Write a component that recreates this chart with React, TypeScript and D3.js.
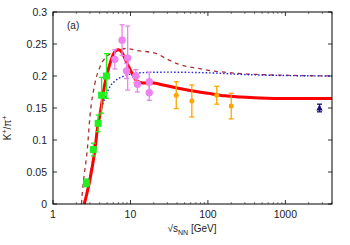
import React from "react";
import * as d3 from "d3";

const W = 350, H = 245;
const M = { left: 53, right: 332, top: 12, bottom: 204 };

const yTicks = [0, 0.05, 0.1, 0.15, 0.2, 0.25, 0.3];
const yTickLabels = ["0", "0.05", "0.1", "0.15", "0.2", "0.25", "0.3"];
const xTicks = [1, 10, 100, 1000];
const xTickLabels = ["1", "10", "100", "1000"];

// Model curves (sqrt(s) GeV, K+/pi+)
const redX = [2.53, 2.99, 3.47, 3.83, 4.03, 4.67, 5.42, 6.28, 6.93, 7.66, 8.88, 10.3, 11.9, 14.5, 19.5, 26.3, 37.2, 60.9, 99.7, 164, 268, 719, 4000];
const redY = [0, 0.037, 0.084, 0.126, 0.139, 0.188, 0.219, 0.238, 0.241, 0.238, 0.222, 0.206, 0.193, 0.189, 0.189, 0.186, 0.182, 0.177, 0.173, 0.169, 0.167, 0.165, 0.165];

const blueX = [2.55, 2.99, 3.47, 4.03, 4.67, 5.42, 6.28, 7.9, 13.2, 29, 100, 340, 4000];
const blueY = [0, 0.045, 0.087, 0.140, 0.165, 0.183, 0.192, 0.199, 0.205, 0.206, 0.205, 0.202, 0.200];

const brownX = [2.33, 2.41, 2.79, 2.99, 3.47, 4.03, 5.1, 7.3, 8.9, 12, 21.8, 29, 40.7, 58, 83, 114, 164, 340, 4000];
const brownY = [0, 0.022, 0.089, 0.135, 0.188, 0.214, 0.232, 0.241, 0.243, 0.240, 0.235, 0.227, 0.219, 0.214, 0.211, 0.208, 0.206, 0.203, 0.200];

// Data points
const greenX = [2.7, 3.32, 3.83, 4.24, 4.9];
const greenY = [0.033, 0.085, 0.126, 0.170, 0.200];
const greenE = [0.006, 0.01, 0.013, 0.028, 0.035];

const pinkX = [6.28, 7.8, 9.2, 8.9, 11.7, 12.3, 17.5, 17.5];
const pinkY = [0.226, 0.256, 0.228, 0.208, 0.200, 0.187, 0.191, 0.174];
const pinkE = [0.015, 0.024, 0.05, 0.012, 0.01, 0.012, 0.015, 0.012];

const orangeX = [39, 62, 130, 200];
const orangeY = [0.170, 0.161, 0.170, 0.153];
const orangeE = [0.021, 0.025, 0.014, 0.02];

const navyX = [2760];
const navyY = [0.150];
const navyE = [0.006];

export default function App() {
  const x = d3.scaleLog().domain([1, 4000]).range([M.left, M.right]);
  const y = d3.scaleLinear().domain([0, 0.3]).range([M.bottom, M.top]);

  const mkLine = (xs: number[], ys: number[]) =>
    d3.line<number>()
      .x((_, i) => x(xs[i]))
      .y((_, i) => y(ys[i]))
      .curve(d3.curveMonotoneX)(ys) || "";

  const minor: number[] = [];
  for (let p = 0; p < 4; p++) {
    for (let k = 2; k <= 9; k++) {
      const v = k * Math.pow(10, p);
      if (v <= 4000) minor.push(v);
    }
  }

  const font = "Liberation Sans, Arial, sans-serif";

  const errBars = (xs: number[], ys: number[], es: number[], color: string, cap: number, key: string) =>
    xs.map((xv, i) => {
      const cx = x(xv);
      const y1 = y(ys[i] + es[i]);
      const y2 = y(ys[i] - es[i]);
      return (
        <g key={key + i} stroke={color} strokeWidth={1.3}>
          <line x1={cx} x2={cx} y1={y1} y2={y2} />
          <line x1={cx - cap} x2={cx + cap} y1={y1} y2={y1} />
          <line x1={cx - cap} x2={cx + cap} y1={y2} y2={y2} />
        </g>
      );
    });

  return (
    <svg width={W} height={H} style={{ position: "absolute", left: 0, top: 0, background: "#fff" }} fontFamily={font}>
      <defs>
        <clipPath id="plot">
          <rect x={M.left} y={M.top} width={M.right - M.left} height={M.bottom - M.top} />
        </clipPath>
      </defs>
      {/* ticks */}
      <g stroke="#000" strokeWidth={0.8}>
        {yTicks.map((t, i) => (
          <g key={"yt" + i}>
            <line x1={M.left} x2={M.left + 4} y1={y(t)} y2={y(t)} />
            <line x1={M.right} x2={M.right - 4} y1={y(t)} y2={y(t)} />
          </g>
        ))}
        {xTicks.map((t, i) => (
          <g key={"xt" + i}>
            <line x1={x(t)} x2={x(t)} y1={M.bottom} y2={M.bottom - 4} />
            <line x1={x(t)} x2={x(t)} y1={M.top} y2={M.top + 4} />
          </g>
        ))}
        {minor.map((t, i) => (
          <g key={"mt" + i} stroke="#666">
            <line x1={x(t)} x2={x(t)} y1={M.bottom} y2={M.bottom - 2} />
            <line x1={x(t)} x2={x(t)} y1={M.top} y2={M.top + 2} />
          </g>
        ))}
      </g>
      {/* tick labels */}
      <g fontSize={10.5} fill="#222">
        {yTicks.map((t, i) => (
          <text key={"yl" + i} x={M.left - 6} y={y(t)} dy="0.35em" textAnchor="end">{yTickLabels[i]}</text>
        ))}
        {xTicks.map((t, i) => (
          <text key={"xl" + i} x={x(t)} y={218} textAnchor="middle">{xTickLabels[i]}</text>
        ))}
      </g>
      {/* axis titles */}
      <text x={192} y={232} fontSize={10} textAnchor="middle" fill="#222">
        √s<tspan fontSize={7} dy={2.5}>NN</tspan><tspan dy={-2.5}> [GeV]</tspan>
      </text>
      <text transform={`translate(11,${(M.top + M.bottom) / 2 + 20}) rotate(-90)`} fontSize={10} textAnchor="middle" fill="#222">
        K<tspan fontSize={7} dy={-4}>+</tspan><tspan dy={4}>/π</tspan><tspan fontSize={7} dy={-4}>+</tspan>
      </text>
      <text x={67} y={29} fontSize={10} fill="#222">(a)</text>

      <g clipPath="url(#plot)" fill="none">
        <path d={mkLine(brownX, brownY)} stroke="#a83232" strokeWidth={1.3} strokeDasharray="4,4" />
        <path d={mkLine(blueX, blueY)} stroke="#1f1fe6" strokeWidth={1.4} strokeDasharray="1.5,2" />
        <path d={mkLine(redX, redY)} stroke="#ff0000" strokeWidth={3} />
      </g>

      {/* data */}
      {errBars(greenX, greenY, greenE, "#22ee22", 2.5, "ge")}
      {greenX.map((xv, i) => (
        <rect key={"g" + i} x={x(xv) - 3.5} y={y(greenY[i]) - 3.5} width={7} height={7} fill="#22ee22" />
      ))}
      {errBars(pinkX, pinkY, pinkE, "#ee82ee", 2.5, "pe")}
      {pinkX.map((xv, i) => (
        <circle key={"p" + i} cx={x(xv)} cy={y(pinkY[i])} r={3.7} fill="#ee82ee" />
      ))}
      {errBars(orangeX, orangeY, orangeE, "#ffa500", 2.5, "oe")}
      {orangeX.map((xv, i) => (
        <circle key={"o" + i} cx={x(xv)} cy={y(orangeY[i])} r={2.5} fill="#ffa500" />
      ))}
      {errBars(navyX, navyY, navyE, "#10107a", 2.5, "ne")}
      {navyX.map((xv, i) => {
        const cx = x(xv), cy = y(navyY[i]);
        return <path key={"n" + i} d={`M${cx},${cy - 3.5}L${cx + 3.2},${cy + 2.5}L${cx - 3.2},${cy + 2.5}Z`} fill="#10107a" />;
      })}

      {/* frame */}
      <rect x={M.left} y={M.top} width={M.right - M.left} height={M.bottom - M.top} fill="none" stroke="#000" strokeWidth={1} />
    </svg>
  );
}
